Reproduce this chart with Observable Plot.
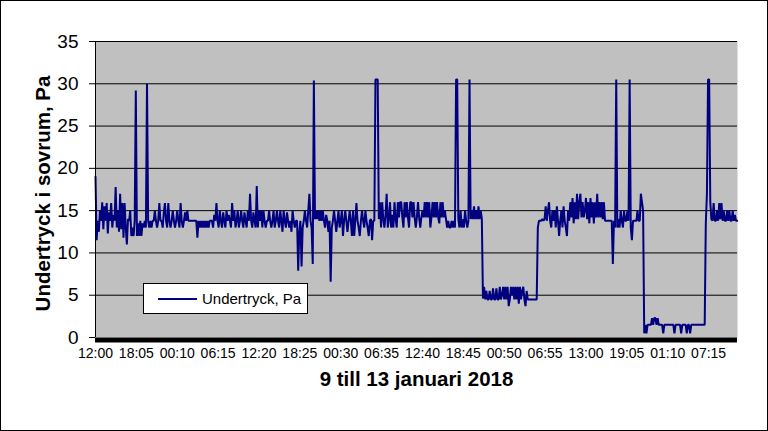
<!DOCTYPE html>
<html>
<head>
<meta charset="utf-8">
<script src="https://cdn.jsdelivr.net/npm/d3@7"></script>
<script src="https://cdn.jsdelivr.net/npm/@observablehq/plot@0.6"></script>
<style>
  body { margin: 0; background: #fff; }
  #wrap { position: relative; width: 768px; height: 431px; font-family: "Liberation Sans", Arial, sans-serif; }
  #border { position: absolute; left: 0; top: 0; width: 768px; height: 431px; box-sizing: border-box; border: 1px solid #000; pointer-events: none; }
  #legend { position: absolute; left: 143px; top: 283px; width: 165px; height: 31px; box-sizing: border-box; border: 1px solid #000; background: #fff; }
  #legend .sw { position: absolute; left: 14px; top: 14px; width: 39px; height: 2px; background: #000080; }
  #legend .lb { position: absolute; left: 58px; top: 6px; font-size: 15px; line-height: 17px; color: #000; white-space: nowrap; }
</style>
</head>
<body>
<div id="wrap">
  <div id="chart"></div>
  <div id="legend"><div class="sw"></div><div class="lb">Undertryck, Pa</div></div>
  <div id="border"></div>
</div>
<script>
// Samples every 10 minutes starting 9 Jan 2018 12:00, 6-hour blocks
const stepMinutes = 10;
const seg0 = [19.0, 11.5, 13.8, 12.5, 15.0, 13.8, 16.0, 12.8, 15.5, 13.8, 15.9, 12.3, 14.8, 13.8, 15.9, 13.0, 14.5, 13.8, 17.8, 13.0, 15.0, 12.5, 17.0, 12.8, 15.9, 11.8, 15.9, 13.0, 11.0, 14.0, 13.8, 15.0, 12.0, 13.0, 12.0, 13.8];
const seg1 = [29.2, 12.0, 13.5, 12.0, 13.8, 12.0, 13.5, 13.0, 13.8, 13.0, 30.0, 13.8, 13.0, 13.8, 13.0, 13.8, 13.8, 15.0, 13.8, 13.0, 13.8, 15.9, 13.8, 13.8, 13.0, 14.8, 15.9, 13.8, 13.0, 15.9, 13.8, 13.0, 13.8, 15.0, 13.8, 13.0];
const seg2 = [13.8, 15.0, 13.8, 13.0, 15.9, 13.8, 13.0, 13.8, 14.8, 13.8, 15.0, 13.8, 13.8, 13.8, 13.8, 13.8, 13.8, 13.8, 13.8, 11.8, 13.8, 13.0, 13.8, 13.0, 13.8, 13.0, 13.8, 13.0, 13.8, 13.0, 13.8, 13.8, 13.8, 13.0, 14.5, 13.8];
const seg3 = [15.9, 13.8, 13.0, 15.0, 13.8, 13.0, 14.8, 13.8, 13.0, 15.0, 13.8, 14.5, 13.8, 13.0, 15.9, 13.8, 15.0, 13.0, 13.8, 15.0, 13.0, 13.8, 15.0, 13.8, 13.0, 14.8, 13.8, 13.0, 15.0, 13.8, 17.0, 13.8, 13.0, 14.8, 13.8, 13.0];
const seg4 = [17.9, 13.0, 15.0, 13.8, 15.0, 13.0, 15.0, 13.8, 13.0, 13.8, 13.8, 15.0, 13.8, 13.0, 13.8, 15.0, 13.0, 13.8, 15.0, 13.8, 13.0, 15.0, 13.8, 12.5, 15.0, 13.8, 13.0, 14.8, 13.8, 13.0, 13.8, 12.5, 15.0, 13.8, 13.0, 13.8];
const seg5 = [13.8, 7.9, 12.5, 13.8, 8.4, 13.0, 13.8, 15.0, 13.8, 13.0, 15.0, 17.0, 13.8, 13.0, 8.7, 30.4, 14.0, 15.0, 14.0, 15.0, 13.8, 15.0, 13.8, 15.0, 13.8, 13.0, 14.5, 13.8, 12.5, 13.8, 6.6, 13.0, 13.8, 15.0, 13.8, 12.5];
const seg6 = [13.8, 15.0, 13.0, 13.8, 15.0, 12.0, 13.8, 15.0, 13.8, 12.5, 13.8, 15.0, 13.8, 12.0, 15.0, 12.0, 13.8, 15.9, 13.8, 13.0, 12.0, 13.8, 15.0, 13.8, 13.0, 15.0, 13.8, 13.0, 12.0, 13.8, 14.0, 11.5, 13.8, 13.8, 30.5, 30.5];
const seg7 = [30.5, 14.0, 16.0, 13.0, 16.0, 14.0, 13.0, 14.5, 17.0, 13.0, 14.0, 16.0, 13.0, 14.5, 13.0, 16.0, 14.0, 13.0, 16.0, 14.2, 16.0, 16.0, 14.2, 13.0, 16.0, 14.2, 16.0, 14.2, 13.0, 16.0, 16.0, 14.2, 16.0, 14.2, 13.0, 14.2];
const seg8 = [16.0, 14.2, 13.0, 14.2, 15.0, 14.2, 16.0, 14.2, 16.0, 14.2, 16.0, 13.0, 14.2, 16.0, 14.2, 16.0, 14.2, 16.0, 14.2, 13.5, 16.0, 14.2, 16.0, 14.2, 15.0, 14.0, 13.0, 13.8, 13.0, 13.0, 13.8, 13.0, 13.8, 13.0, 30.5, 30.5];
const seg9 = [14.0, 13.0, 15.0, 13.0, 14.0, 13.0, 15.0, 13.8, 13.0, 13.8, 30.5, 14.0, 15.0, 14.0, 15.5, 14.0, 15.0, 14.0, 15.5, 14.0, 15.0, 14.0, 4.6, 6.0, 4.5, 5.5, 4.5, 4.5, 5.5, 4.5, 4.5, 5.8, 4.5, 4.5, 5.8, 4.5];
const seg10 = [4.5, 6.0, 4.5, 5.0, 6.0, 4.5, 6.0, 4.5, 6.0, 3.7, 4.5, 6.0, 5.0, 6.0, 4.5, 6.0, 4.5, 6.0, 4.0, 6.0, 4.5, 5.5, 6.0, 4.5, 3.7, 5.5, 4.5, 4.5, 4.5, 4.5, 4.5, 4.5, 4.5, 4.5, 4.5, 13.0];
const seg11 = [13.8, 13.8, 13.8, 14.0, 13.8, 14.0, 15.5, 13.8, 15.0, 16.0, 13.8, 13.0, 15.0, 13.8, 15.0, 13.0, 15.5, 13.8, 12.0, 13.8, 15.0, 13.0, 15.5, 13.8, 13.0, 12.0, 15.0, 13.8, 16.0, 14.2, 16.5, 13.5, 16.0, 14.0, 17.0, 14.0];
const seg12 = [16.0, 17.0, 14.2, 16.0, 14.2, 15.0, 16.5, 14.0, 16.0, 13.5, 16.5, 14.2, 16.0, 13.5, 16.0, 14.2, 17.0, 14.2, 16.0, 14.2, 16.0, 14.0, 16.0, 13.8, 13.8, 13.8, 13.8, 13.8, 13.8, 13.8, 8.7, 13.8, 13.0, 30.5, 13.0, 14.0];
const seg13 = [13.0, 15.0, 13.8, 13.0, 15.0, 13.8, 13.8, 15.0, 13.8, 30.5, 13.0, 11.5, 13.8, 13.8, 13.8, 13.8, 15.0, 13.8, 13.8, 17.0, 16.0, 15.0, 0.5, 1.5, 0.5, 1.5, 1.5, 1.5, 1.5, 2.3, 1.5, 2.3, 2.3, 1.5, 2.3, 1.5];
const seg14 = [1.5, 1.5, 1.5, 0.5, 1.5, 1.5, 1.5, 1.5, 1.5, 1.5, 1.5, 1.5, 1.5, 0.5, 1.5, 1.5, 1.5, 1.5, 1.5, 0.5, 1.5, 1.5, 1.5, 1.5, 0.5, 1.5, 1.5, 0.5, 1.5, 1.5, 1.5, 1.5, 1.5, 1.5, 1.5, 1.5];
const seg15 = [1.5, 1.5, 1.5, 1.5, 1.5, 13.5, 17.0, 30.5, 30.5, 16.0, 14.0, 13.8, 15.9, 13.8, 13.8, 15.0, 13.8, 15.9, 14.0, 15.9, 13.8, 15.0, 13.8, 13.8, 15.0, 13.8, 15.0, 13.8, 13.8, 15.0, 13.8, 14.5, 13.8, 13.8];

const tickLabels = ["12:00", "18:05", "00:10", "06:15", "12:20", "18:25", "00:30", "06:35", "12:40", "18:45", "00:50", "06:55", "13:00", "19:05", "01:10", "07:15"];
const tickIntervalMinutes = 365;
const yTicks = [0, 5, 10, 15, 20, 25, 30, 35];
const seriesName = "Undertryck, Pa";
const yTitle = "Undertryck i sovrum, Pa";
const xTitle = "9 till 13 januari 2018";

const values = [].concat(seg0, seg1, seg2, seg3, seg4, seg5, seg6, seg7, seg8, seg9, seg10, seg11, seg12, seg13, seg14, seg15);
const data = values.map((v, i) => ({t: i * stepMinutes, v}));
const tickPositions = tickLabels.map((d, i) => i * tickIntervalMinutes);

const chart = Plot.plot({
  width: 768,
  height: 431,
  marginLeft: 95,
  marginRight: 31,
  marginTop: 41,
  marginBottom: 94,
  style: {fontFamily: "'Liberation Sans', Arial, sans-serif", color: "#000", background: "transparent"},
  x: {domain: [0, 5733]},
  y: {domain: [0, 35]},
  marks: [
    Plot.frame({fill: "#c0c0c0", stroke: "none"}),
    Plot.ruleY(yTicks.filter(d => d > 0), {stroke: "#000", strokeWidth: 1}),
    Plot.line(data, {x: "t", y: "v", stroke: "#000080", strokeWidth: 2, strokeLinejoin: "miter"}),
    Plot.ruleX([0], {stroke: "#000", strokeWidth: 1}),
    Plot.ruleY([0], {stroke: "#000", strokeWidth: 5, dy: 2.5}),
    Plot.axisY({ticks: yTicks, tickSize: 6, tickPadding: 11, fontSize: 19, label: null}),
    Plot.axisX({ticks: tickPositions, tickFormat: d => tickLabels[Math.round(d / tickIntervalMinutes)], tickSize: 0, tickPadding: 11, fontSize: 14, label: null}),
    Plot.text([yTitle], {frameAnchor: "left", textAnchor: "middle", dx: -52, dy: 4, rotate: -90, fontSize: 20.5, fontWeight: "bold"}),
    Plot.text([xTitle], {frameAnchor: "bottom", textAnchor: "middle", dy: 48, fontSize: 20.5, fontWeight: "bold"})
  ]
});
document.getElementById("chart").appendChild(chart);
document.querySelector("#legend .lb").textContent = seriesName;
</script>
</body>
</html>
